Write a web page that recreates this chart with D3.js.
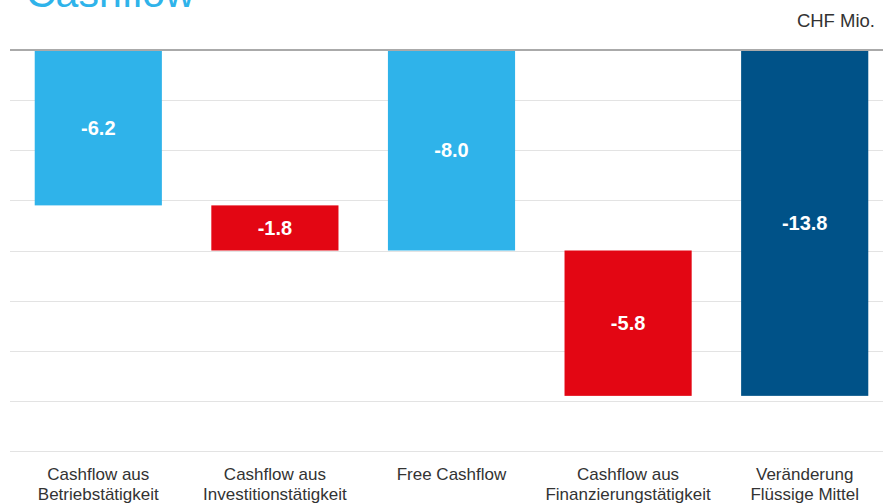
<!DOCTYPE html>
<html>
<head>
<meta charset="utf-8">
<script src="https://cdn.jsdelivr.net/npm/d3@7"></script>
<style>
  body { margin: 0; background: #fff; font-family: "Liberation Sans", Arial, sans-serif; }
</style>
</head>
<body>
<script>
    var width = 883;
    var height = 503;

    // data
    var categories = [
        ['Cashflow aus', 'Betriebstätigkeit'],
        ['Cashflow aus', 'Investitionstätigkeit'],
        ['Free Cashflow'],
        ['Cashflow aus', 'Finanzierungstätigkeit'],
        ['Veränderung', 'Flüssige Mittel']
    ];
    var values = [-6.2, -1.8, -8.0, -5.8, -13.8];
    // bar starts (waterfall): totals start at 0
    var starts = [0, -6.2, 0, -8.0, 0];
    var colors = ['#2fb3ea', '#e30613', '#2fb3ea', '#e30613', '#005288'];
    var yTicks = [0, -2, -4, -6, -8, -10, -12, -14, -16];

    var svg = d3.select('body').append('svg')
        .attr('width', width)
        .attr('height', height);

    var x = d3.scaleBand()
        .domain(d3.range(categories.length))
        .range([10, 893])
        .paddingInner(0.28)
        .paddingOuter(0.14);

    var y = d3.scaleLinear().domain([0, -16]).range([50, 451]);

    // grid lines
    svg.append('g')
        .selectAll('line')
        .data(yTicks.slice(1))
        .enter()
        .append('line')
        .attr('x1', 10).attr('x2', width)
        .attr('y1', function (d) { return Math.round(y(d)) + 0.5; })
        .attr('y2', function (d) { return Math.round(y(d)) + 0.5; })
        .attr('stroke', '#e3e3e3')
        .attr('stroke-width', 1);

    // bars
    svg.append('g')
        .selectAll('rect')
        .data(values)
        .enter()
        .append('rect')
        .attr('x', function (d, i) { return x(i); })
        .attr('width', x.bandwidth())
        .attr('y', function (d, i) { return y(starts[i]); })
        .attr('height', function (d, i) { return y(starts[i] + d) - y(starts[i]); })
        .attr('fill', function (d, i) { return colors[i]; });

    // zero line
    svg.append('line')
        .attr('x1', 10).attr('x2', width)
        .attr('y1', y(0)).attr('y2', y(0))
        .attr('stroke', '#aaaaaa')
        .attr('stroke-width', 2);

    // value labels
    svg.append('g')
        .selectAll('text')
        .data(values)
        .enter()
        .append('text')
        .attr('x', function (d, i) { return x(i) + x.bandwidth() / 2; })
        .attr('y', function (d, i) { return (y(starts[i]) + y(starts[i] + d)) / 2; })
        .attr('dy', '0.35em')
        .attr('text-anchor', 'middle')
        .attr('fill', '#fff')
        .attr('font-weight', 'bold')
        .attr('font-size', 20)
        .text(function (d) { return d.toFixed(1); });

    // category labels
    var cat = svg.append('g')
        .selectAll('text')
        .data(categories)
        .enter()
        .append('text')
        .attr('x', function (d, i) { return x(i) + x.bandwidth() / 2; })
        .attr('y', 480)
        .attr('text-anchor', 'middle')
        .attr('fill', '#333')
        .attr('font-size', 17);
    cat.selectAll('tspan')
        .data(function (d) { return d; })
        .enter()
        .append('tspan')
        .attr('x', function () { return d3.select(this.parentNode).attr('x'); })
        .attr('dy', function (d, i) { return i === 0 ? 0 : 20; })
        .text(function (d) { return d; });

    // title + unit
    svg.append('text')
        .attr('x', 26)
        .attr('y', 7)
        .attr('fill', '#2fb3ea')
        .attr('font-size', 41)
        .text('Cashflow');

    svg.append('text')
        .attr('x', 875)
        .attr('y', 27)
        .attr('text-anchor', 'end')
        .attr('fill', '#333')
        .attr('font-size', 18.5)
        .text('CHF Mio.');
</script>
</body>
</html>
